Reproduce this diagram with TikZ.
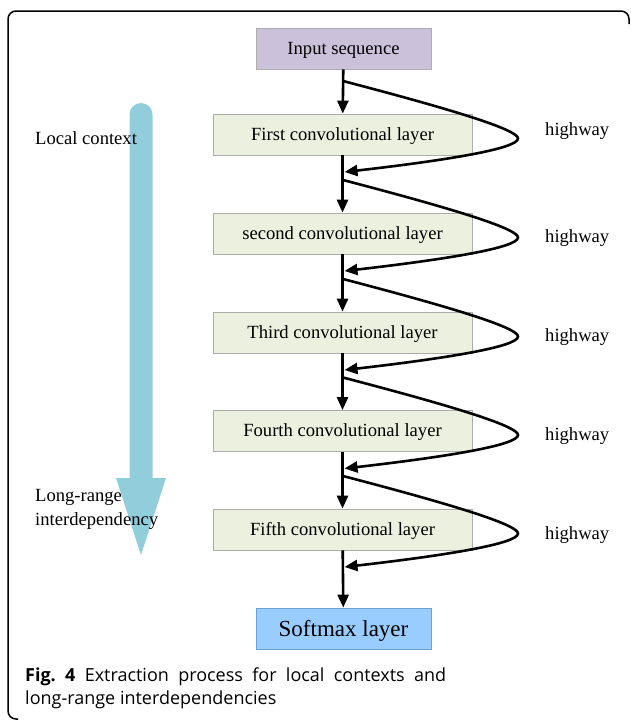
\documentclass[tikz,border=0pt]{standalone}
\usepackage{fontspec}
\setmainfont{Liberation Serif}
\newfontfamily\capfont{Open Sans}
\usetikzlibrary{arrows.meta}
\definecolor{inputfill}{RGB}{204,193,218}
\definecolor{convfill}{RGB}{235,241,222}
\definecolor{softfill}{RGB}{153,204,255}
\definecolor{softdraw}{RGB}{110,160,210}
\definecolor{flowblue}{RGB}{146,205,220}
\begin{document}
\begin{tikzpicture}[x=1pt, y=-1pt, every node/.style={font=\fontsize{18.6}{24}\selectfont},
  layer/.style={draw=black!32,line width=0.8pt,minimum width=259pt,minimum height=41pt,inner sep=0pt,text height=13pt,text depth=1.5pt,fill=convfill},
  endbox/.style={draw=black!32,line width=0.8pt,minimum width=175pt,minimum height=41pt,inner sep=0pt,text height=13pt,text depth=1.5pt},
  flow/.style={-{Triangle[length=13pt,width=11pt]},line width=2.6pt},
  lbl/.style={anchor=west,inner sep=0pt,align=left}]
\useasboundingbox (0,0) rectangle (630,720);
\draw[line width=1.5pt,rounded corners=8pt] (629,24) -- (629,11) -- (8,11) -- (8,719) -- (18,719);
% trend arrow behind the labels
\fill[flowblue] (129.5,478) -- (129.5,114.5) arc[start angle=180,end angle=360,radius=11.5] -- (152.5,478)
  -- (166,478) -- (141,555) -- (116,478) -- cycle;
\node[lbl] (loc) at (35,138) {Local context};
\node[lbl] (lng) at (35,509) {Long-range\\interdependency};
\node[endbox,fill=inputfill] (inp) at (343.5,48.5) {Input sequence};
\node[layer] (c1) at (342.5,134.5) {First convolutional layer};
\node[layer] (c2) at (342.5,233.5) {second convolutional layer};
\node[layer] (c3) at (342.5,332.5) {Third convolutional layer};
\node[layer] (c4) at (342.5,431) {Fourth convolutional layer};
\node[layer] (c5) at (342.5,529.5) {Fifth convolutional layer};
\node[endbox,fill=softfill,draw=softdraw,font=\fontsize{23}{27}\selectfont,text height=16pt,text depth=1pt] (soft) at (343.5,628.5) {Softmax layer};
\draw[flow] (inp) -- (c1);
\draw[flow] (c1) -- (c2);
\draw[flow] (c2) -- (c3);
\draw[flow] (c3) -- (c4);
\draw[flow] (c4) -- (c5);
\draw[flow] (c5) -- (soft);
% highways
\coordinate (h1a) at (343,81);  \coordinate (h1b) at (344.5,172);
\coordinate (h2a) at (343,180); \coordinate (h2b) at (344.5,271);
\coordinate (h3a) at (343,279); \coordinate (h3b) at (344.5,370);
\coordinate (h4a) at (343,377.5); \coordinate (h4b) at (344.5,468.5);
\coordinate (h5a) at (343,476); \coordinate (h5b) at (344.5,567);
\draw[flow] (h1a) .. controls (465.5,113) and (518,130.5) .. (518,138.5) .. controls (518,148.5) and (449,160) .. (h1b);
\draw[flow] (h2a) .. controls (465.5,212) and (518,229.5) .. (518,237.5) .. controls (518,247.5) and (449,259) .. (h2b);
\draw[flow] (h3a) .. controls (465.5,311) and (518,328.5) .. (518,336.5) .. controls (518,346.5) and (449,358) .. (h3b);
\draw[flow] (h4a) .. controls (465.5,409.5) and (518,427) .. (518,435) .. controls (518,445) and (449,456.5) .. (h4b);
\draw[flow] (h5a) .. controls (465.5,508) and (518,525.5) .. (518,533.5) .. controls (518,543.5) and (449,555) .. (h5b);
\node[lbl] (hw1) at (545,131) {highway};
\node[lbl] (hw2) at (545,238) {highway};
\node[lbl] (hw3) at (545,337) {highway};
\node[lbl] (hw4) at (545,436) {highway};
\node[lbl] (hw5) at (545,535) {highway};
\node[anchor=north west,inner sep=0pt,text width=421pt,align=justify,font=\capfont\fontsize{18}{23}\selectfont] (cap) at (25,668)
  {\textbf{Fig.~4} Extraction process for local contexts and\linebreak long-range interdependencies};
\end{tikzpicture}
\end{document}
